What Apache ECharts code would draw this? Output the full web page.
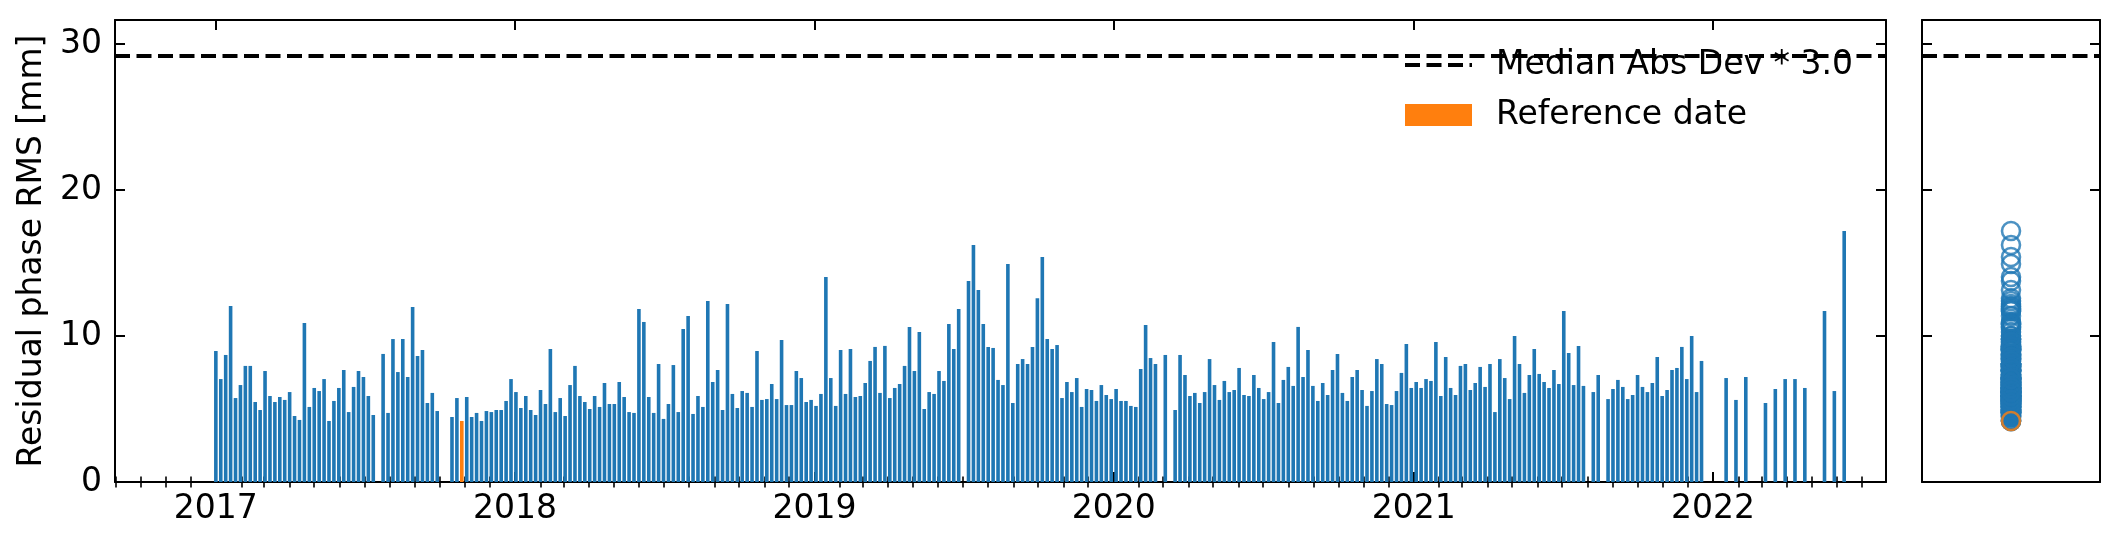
<!DOCTYPE html>
<html><head><meta charset="utf-8">
<script src="https://cdn.jsdelivr.net/npm/echarts@6/dist/echarts.min.js"></script>
<style>html,body{margin:0;padding:0;background:#fff}#chart{width:2120px;height:545px}</style>
</head><body><div id="chart"></div>
<script>
// ---- data ----
const dates = [
'2017-01-01','2017-01-07','2017-01-13','2017-01-19','2017-01-25','2017-01-31','2017-02-06','2017-02-12','2017-02-18','2017-02-24',
'2017-03-02','2017-03-08','2017-03-14','2017-03-20','2017-03-26','2017-04-01','2017-04-07','2017-04-13','2017-04-19','2017-04-25',
'2017-05-01','2017-05-07','2017-05-13','2017-05-19','2017-05-25','2017-05-31','2017-06-06','2017-06-12','2017-06-18','2017-06-24',
'2017-06-30','2017-07-06','2017-07-12','2017-07-24','2017-07-30','2017-08-05','2017-08-11','2017-08-17','2017-08-23','2017-08-29',
'2017-09-04','2017-09-10','2017-09-16','2017-09-22','2017-09-28','2017-10-16','2017-10-22','2017-10-28','2017-11-03','2017-11-09',
'2017-11-15','2017-11-21','2017-11-27','2017-12-03','2017-12-09','2017-12-15','2017-12-21','2017-12-27','2018-01-02','2018-01-08',
'2018-01-14','2018-01-20','2018-01-26','2018-02-01','2018-02-07','2018-02-13','2018-02-19','2018-02-25','2018-03-03','2018-03-09',
'2018-03-15','2018-03-21','2018-03-27','2018-04-02','2018-04-08','2018-04-14','2018-04-20','2018-04-26','2018-05-02','2018-05-08',
'2018-05-14','2018-05-20','2018-05-26','2018-06-01','2018-06-07','2018-06-13','2018-06-19','2018-06-25','2018-07-01','2018-07-07',
'2018-07-13','2018-07-19','2018-07-25','2018-07-31','2018-08-06','2018-08-12','2018-08-18','2018-08-24','2018-08-30','2018-09-05',
'2018-09-11','2018-09-17','2018-09-23','2018-09-29','2018-10-05','2018-10-11','2018-10-17','2018-10-23','2018-10-29','2018-11-04',
'2018-11-10','2018-11-16','2018-11-22','2018-11-28','2018-12-04','2018-12-10','2018-12-16','2018-12-22','2018-12-28','2019-01-03',
'2019-01-09','2019-01-15','2019-01-21','2019-01-27','2019-02-02','2019-02-08','2019-02-14','2019-02-20','2019-02-26','2019-03-04',
'2019-03-10','2019-03-16','2019-03-22','2019-03-28','2019-04-03','2019-04-09','2019-04-15','2019-04-21','2019-04-27','2019-05-03',
'2019-05-09','2019-05-15','2019-05-21','2019-05-27','2019-06-02','2019-06-08','2019-06-14','2019-06-20','2019-06-26','2019-07-08',
'2019-07-14','2019-07-20','2019-07-26','2019-08-01','2019-08-07','2019-08-13','2019-08-19','2019-08-25','2019-08-31','2019-09-06',
'2019-09-12','2019-09-18','2019-09-24','2019-09-30','2019-10-06','2019-10-12','2019-10-18','2019-10-24','2019-10-30','2019-11-05',
'2019-11-11','2019-11-17','2019-11-23','2019-11-29','2019-12-05','2019-12-11','2019-12-17','2019-12-23','2019-12-29','2020-01-04',
'2020-01-10','2020-01-16','2020-01-22','2020-01-28','2020-02-03','2020-02-09','2020-02-15','2020-02-21','2020-03-04','2020-03-16',
'2020-03-22','2020-03-28','2020-04-03','2020-04-09','2020-04-15','2020-04-21','2020-04-27','2020-05-03','2020-05-09','2020-05-15',
'2020-05-21','2020-05-27','2020-06-02','2020-06-08','2020-06-14','2020-06-20','2020-06-26','2020-07-02','2020-07-08','2020-07-14',
'2020-07-20','2020-07-26','2020-08-01','2020-08-07','2020-08-13','2020-08-19','2020-08-25','2020-08-31','2020-09-06','2020-09-12',
'2020-09-18','2020-09-24','2020-09-30','2020-10-06','2020-10-12','2020-10-18','2020-10-24','2020-10-30','2020-11-05','2020-11-11',
'2020-11-17','2020-11-23','2020-11-29','2020-12-05','2020-12-11','2020-12-17','2020-12-23','2020-12-29','2021-01-04','2021-01-10',
'2021-01-16','2021-01-22','2021-01-28','2021-02-03','2021-02-09','2021-02-15','2021-02-21','2021-02-27','2021-03-05','2021-03-11',
'2021-03-17','2021-03-23','2021-03-29','2021-04-04','2021-04-10','2021-04-16','2021-04-22','2021-04-28','2021-05-04','2021-05-10',
'2021-05-16','2021-05-22','2021-05-28','2021-06-03','2021-06-09','2021-06-15','2021-06-21','2021-06-27','2021-07-03','2021-07-09',
'2021-07-15','2021-07-21','2021-07-27','2021-08-08','2021-08-14','2021-08-26','2021-09-01','2021-09-07','2021-09-13','2021-09-19',
'2021-09-25','2021-10-01','2021-10-07','2021-10-13','2021-10-19','2021-10-25','2021-10-31','2021-11-06','2021-11-12','2021-11-18',
'2021-11-24','2021-11-30','2021-12-06','2021-12-12','2021-12-18','2022-01-17','2022-01-29','2022-02-10','2022-03-06','2022-03-18',
'2022-03-30','2022-04-11','2022-04-23','2022-05-17','2022-05-29','2022-06-10'
];
const rmsValues = [
8.97,7.05,8.70,12.05,5.75,6.64,7.95,7.95,5.48,4.93,
7.60,5.89,5.48,5.82,5.62,6.16,4.52,4.25,10.89,5.14,
6.44,6.23,7.05,4.18,5.55,6.44,7.67,4.79,6.51,7.60,
7.19,5.89,4.59,8.77,4.73,9.79,7.53,9.79,7.19,11.99,
8.63,9.04,5.41,6.10,4.86,4.45,5.75,4.18,5.82,4.45,
4.73,4.18,4.86,4.79,4.93,4.93,5.55,7.05,6.16,5.07,
5.89,4.93,4.59,6.30,5.34,9.11,4.79,5.75,4.52,6.64,
7.95,5.89,5.48,5.00,5.89,5.14,6.78,5.34,5.34,6.85,
5.82,4.79,4.73,11.85,10.96,5.82,4.73,8.08,4.32,5.34,
8.01,4.79,10.48,11.37,4.66,5.89,5.14,12.40,6.85,7.67,
4.93,12.19,6.03,5.07,6.23,6.10,5.14,8.97,5.62,5.68,
6.71,5.68,9.73,5.27,5.27,7.60,7.12,5.48,5.62,5.21,
6.03,14.04,7.12,5.21,9.04,6.03,9.11,5.82,5.89,6.78,
8.29,9.25,6.10,9.32,5.75,6.44,6.71,7.95,10.62,7.60,
10.27,5.00,6.16,6.03,7.60,6.92,10.82,9.11,11.85,13.77,
16.23,13.15,10.82,9.25,9.18,6.99,6.64,14.93,5.41,8.08,
8.42,8.08,9.25,12.58,15.41,9.79,9.11,9.38,5.75,6.85,
6.16,7.12,5.14,6.37,6.30,5.55,6.64,5.96,5.68,6.37,
5.55,5.55,5.21,5.14,7.74,10.75,8.49,8.08,8.70,4.93,
8.70,7.33,5.89,6.10,5.41,6.16,8.42,6.64,5.62,6.92,
6.16,6.30,7.81,5.96,5.89,7.33,6.44,5.68,6.16,9.59,
5.41,6.99,7.88,6.58,10.62,7.19,9.04,6.58,5.55,6.78,
5.96,7.67,8.77,6.10,5.55,7.19,7.67,6.30,5.21,6.23,
8.42,8.08,5.34,5.27,6.23,7.47,9.45,6.44,6.85,6.44,
7.05,6.92,9.59,5.89,8.56,6.44,5.96,7.95,8.08,6.30,
6.78,7.88,6.51,8.08,4.79,8.42,7.12,5.68,10.00,8.08,
6.10,7.33,9.11,7.40,6.85,6.44,7.67,6.71,11.71,8.84,
6.64,9.32,6.58,6.16,7.33,5.68,6.37,6.99,6.51,5.68,
5.96,7.33,6.51,6.16,6.78,8.56,5.89,6.30,7.67,7.81,
9.25,7.05,10.00,6.16,8.29,7.12,5.62,7.19,5.41,6.37,
7.05,7.05,6.44,11.71,6.23,17.19
];
const refDate = '2017-10-28';
const madThreshold = 29.2;
const yearLabels = ['2017','2018','2019','2020','2021','2022'];
const yTickLabels = ['0','10','20','30'];
const rightTickLabels = ['10','20','30'];

// ---- build ----
const BLUE = '#1f77b4', ORANGE = '#ff7f0e', FONT = 'DejaVu Sans';
function ts(s) { const p = s.split('-').map(Number); return new Date(p[0], p[1] - 1, p[2]).getTime(); }
const xMin = new Date(2016, 7, 31).getTime();
const xMax = new Date(2022, 6, 31).getTime();
const yMax = 31.64;
const yearTicks = yearLabels.map(l => new Date(+l, 0, 1).getTime());
const monthTicks = [];
for (let y = 2016; y <= 2022; y++) for (let m = 1; m < 12; m++) {
  const t = new Date(y, m, 1).getTime();
  if (t > xMin && t < xMax) monthTicks.push(t);
}
const yTicks = yTickLabels.map(Number);
const rTicks = rightTickLabels.map(Number);

const blueData = [], refData = [];
dates.forEach((d, i) => { (d === refDate ? refData : blueData).push([ts(d), rmsValues[i]]); });
const refValue = refData.length ? refData[0][1] : null;

const spine = { show: true, onZero: false, lineStyle: { color: '#000', width: 2 } };
function xAx(pos, ticks, len, w, labels, line) {
  return {
    type: 'value', gridIndex: 0, position: pos, min: xMin, max: xMax, scale: true,
    axisLine: line ? spine : { show: false },
    splitLine: { show: false },
    axisTick: { show: true, inside: true, length: len, lineStyle: { color: '#000', width: w }, customValues: ticks },
    axisLabel: labels ? {
      show: true, customValues: yearTicks, margin: 11, color: '#000', fontSize: 33, fontFamily: FONT,
      formatter: v => { const i = yearTicks.indexOf(v); return i >= 0 ? yearLabels[i] : ''; }
    } : { show: false }
  };
}
function yAx(grid, pos, ticks, showLabel, extra) {
  return Object.assign({
    type: 'value', gridIndex: grid, position: pos, min: 0, max: yMax,
    axisLine: spine, splitLine: { show: false },
    axisTick: { show: true, inside: true, length: 10, lineStyle: { color: '#000', width: 2 }, customValues: ticks },
    axisLabel: showLabel ? { show: true, customValues: ticks, margin: 13, color: '#000', fontSize: 33, fontFamily: FONT,
      formatter: v => yTickLabels[yTicks.indexOf(v)] } : { show: false }
  }, extra || {});
}

const dashStyle = { color: '#000', width: 4, type: [15, 6.5] };

const option = {
  animation: false,
  backgroundColor: '#fff',
  textStyle: { fontFamily: FONT },
  grid: [
    { left: 115, right: 234, top: 20, bottom: 63 },
    { left: 1922, right: 20, top: 20, bottom: 63 }
  ],
  legend: {
    orient: 'vertical', left: 1398, top: 43, itemWidth: 67, itemHeight: 22, itemGap: 16,
    selectedMode: false,
    textStyle: { fontSize: 33, fontFamily: FONT, color: '#000', lineHeight: 34, padding: [0, 0, 0, 19] },
    data: [
      { name: 'Median Abs Dev * 3.0',
        itemStyle: { color: 'rgba(0,0,0,0)', borderColor: 'rgba(0,0,0,0)', borderWidth: 0, opacity: 0 },
        lineStyle: { color: '#000', width: 4, type: [15, 6.5], opacity: 1 } },
      { name: 'Reference date', icon: 'rect' }
    ]
  },
  xAxis: [
    xAx('bottom', yearTicks, 10, 2, true, true),
    xAx('bottom', monthTicks, 5.5, 1.6, false, false),
    xAx('top', yearTicks, 10, 2, false, true),
    xAx('top', monthTicks, 5.5, 1.6, false, false),
    { type: 'category', gridIndex: 1, position: 'bottom', data: [''], axisLine: spine, axisTick: { show: false }, axisLabel: { show: false } },
    { type: 'category', gridIndex: 1, position: 'top', data: [''], axisLine: spine, axisTick: { show: false }, axisLabel: { show: false } }
  ],
  yAxis: [
    yAx(0, 'left', yTicks, true, {
      name: 'Residual phase RMS [mm]', nameLocation: 'middle', nameGap: 57,
      nameTextStyle: { fontSize: 33, fontFamily: FONT, color: '#000' }
    }),
    yAx(0, 'right', yTicks, false),
    yAx(1, 'left', rTicks, false),
    yAx(1, 'right', rTicks, false)
  ],
  series: [
    {
      name: 'RMS', type: 'bar', xAxisIndex: 0, yAxisIndex: 0, data: blueData,
      barWidth: 3.6, barGap: '-100%', itemStyle: { color: BLUE },
      markLine: { silent: true, symbol: 'none', label: { show: false }, lineStyle: dashStyle,
        data: [{ yAxis: madThreshold }] }
    },
    {
      name: 'Reference date', type: 'bar', xAxisIndex: 0, yAxisIndex: 0, data: refData,
      barWidth: 3.6, barGap: '-100%', itemStyle: { color: ORANGE }
    },
    {
      name: 'Median Abs Dev * 3.0', type: 'line', xAxisIndex: 0, yAxisIndex: 0, data: [],
      symbol: 'none', lineStyle: dashStyle, itemStyle: { color: '#000' }
    },
    {
      name: 'dist', type: 'scatter', xAxisIndex: 4, yAxisIndex: 2,
      data: rmsValues.map(v => [0, v]), symbol: 'circle', symbolSize: 18,
      itemStyle: { color: 'rgba(0,0,0,0)', borderColor: BLUE, borderWidth: 2.6 },
      markLine: { silent: true, symbol: 'none', label: { show: false }, lineStyle: dashStyle,
        data: [{ yAxis: madThreshold }] }
    },
    {
      name: 'refdot', type: 'scatter', xAxisIndex: 4, yAxisIndex: 2, z: 5,
      data: refValue !== null ? [[0, refValue]] : [], symbol: 'circle', symbolSize: 18,
      itemStyle: { color: 'rgba(0,0,0,0)', borderColor: ORANGE, borderWidth: 2.6 }
    }
  ]
};
const chart = echarts.init(document.getElementById('chart'), null, { renderer: 'canvas' });
chart.setOption(option);
</script></body></html>
